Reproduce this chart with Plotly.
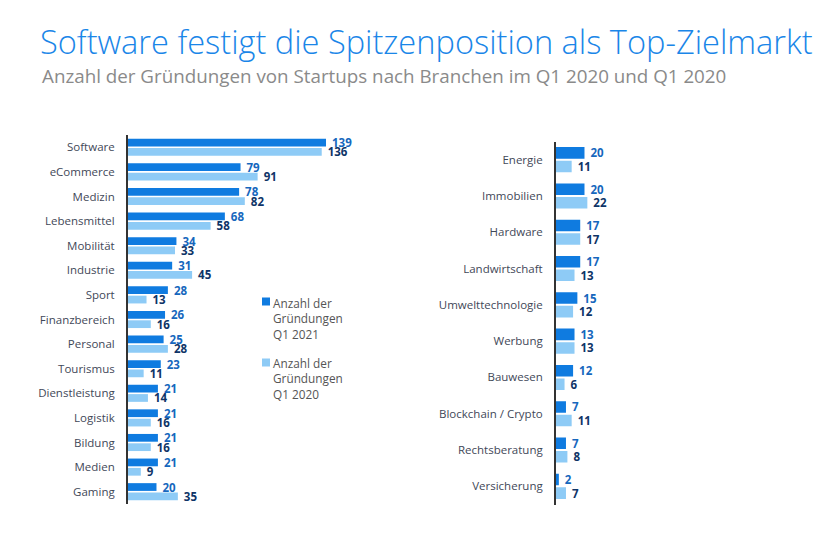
import plotly.graph_objects as go

# ---------------- data ----------------
left_cats = ["Software", "eCommerce", "Medizin", "Lebensmittel", "Mobilität", "Industrie",
             "Sport", "Finanzbereich", "Personal", "Tourismus", "Dienstleistung", "Logistik",
             "Bildung", "Medien", "Gaming"]
left_2021 = [139, 79, 78, 68, 34, 31, 28, 26, 25, 23, 21, 21, 21, 21, 20]
left_2020 = [136, 91, 82, 58, 33, 45, 13, 16, 28, 11, 14, 16, 16, 9, 35]

right_cats = ["Energie", "Immobilien", "Hardware", "Landwirtschaft", "Umwelttechnologie",
              "Werbung", "Bauwesen", "Blockchain / Crypto", "Rechtsberatung", "Versicherung"]
right_2021 = [20, 20, 17, 17, 15, 13, 12, 7, 7, 2]
right_2020 = [11, 22, 17, 13, 12, 13, 6, 11, 8, 7]

series_names = ["Anzahl der<br>Gründungen<br>Q1 2021", "Anzahl der<br>Gründungen<br>Q1 2020"]

title_text = "Software festigt die Spitzenposition als Top-Zielmarkt"
subtitle_text = "Anzahl der Gründungen von Startups nach Branchen im Q1 2020 und Q1 2020"

# ---------------- style ----------------
W, H = 832, 543
C_DARK = "#0f7be0"
C_LIGHT = "#8ecbf6"
T_DARK = "#1667bd"
T_LIGHT = "#0e3467"
LABEL_C = "#3f4858"
FONT = "Open Sans"

def px_x(p):
    return p / W

def px_y(p):
    return 1 - p / H

fig = go.Figure()

def add_pair(cats, v21, v20, xa, ya, width, gap):
    for vals, col, tcol, off in [
        (v21, C_DARK, T_DARK, -(width + gap / 2)),
        (v20, C_LIGHT, T_LIGHT, gap / 2),
    ]:
        fig.add_trace(go.Bar(
            x=vals, y=cats, orientation="h", xaxis=xa, yaxis=ya,
            marker=dict(color=col, line=dict(width=0)),
            width=width, offset=off,
            text=vals, texttemplate=" %{x}", textposition="outside",
            textfont=dict(family=FONT, size=11.5, color=tcol, weight="bold"),
            constraintext="none", cliponaxis=False,
            showlegend=False, hoverinfo="skip",
        ))

add_pair(left_cats, left_2021, left_2020, "x", "y", 0.315, 0.065)
add_pair(right_cats, right_2021, right_2020, "x2", "y2", 0.318, 0.055)

scale = 1.4245  # px per unit
lx0, rx0 = 128, 556
lrange, rrange = 160, 40

axis_common = dict(showline=True, linecolor="#333333", linewidth=2, ticks="",
                   showgrid=False, zeroline=False, autorange="reversed",
                   tickfont=dict(family=FONT, size=11.5, color=LABEL_C),
                   ticklabelstandoff=9, type="category", fixedrange=True)

fig.update_layout(
    width=W, height=H,
    margin=dict(l=0, r=0, t=0, b=0),
    paper_bgcolor="white", plot_bgcolor="white",
    barmode="overlay",
    showlegend=False,
    font=dict(family=FONT),
    xaxis=dict(domain=[px_x(lx0), px_x(lx0 + lrange * scale)], range=[0, lrange],
               visible=False, fixedrange=True),
    yaxis=dict(domain=[px_y(504), px_y(135)], anchor="x", **axis_common),
    xaxis2=dict(domain=[px_x(rx0), px_x(rx0 + rrange * scale)], range=[0, rrange],
                visible=False, fixedrange=True, anchor="y2"),
    yaxis2=dict(domain=[px_y(504.5), px_y(141.5)], anchor="x2", **axis_common),
    title=dict(text=title_text, x=px_x(40), xanchor="left", y=px_y(43), yanchor="middle",
               font=dict(family=FONT, size=32.6, color="#1a86e8", weight=300)),
)

fig.add_annotation(text=subtitle_text, xref="paper", yref="paper",
                   x=px_x(40), y=px_y(76), xanchor="left", yanchor="middle",
                   showarrow=False, font=dict(family=FONT, size=18.8, color="#8a8a8a"))

# legend (built manually)
for i, (name, col) in enumerate(zip(series_names, [C_DARK, C_LIGHT])):
    cy = 301.5 + i * 61
    fig.add_shape(type="rect", xref="paper", yref="paper",
                  x0=px_x(262), x1=px_x(270), y0=px_y(cy - 4), y1=px_y(cy + 4),
                  fillcolor=col, line=dict(width=0))
    fig.add_annotation(text=name, xref="paper", yref="paper",
                       x=px_x(271), y=px_y(cy - 9), xanchor="left", yanchor="top",
                       align="left", showarrow=False,
                       font=dict(family=FONT, size=11.8, color="#555555"))

fig.write_html("out.html")
